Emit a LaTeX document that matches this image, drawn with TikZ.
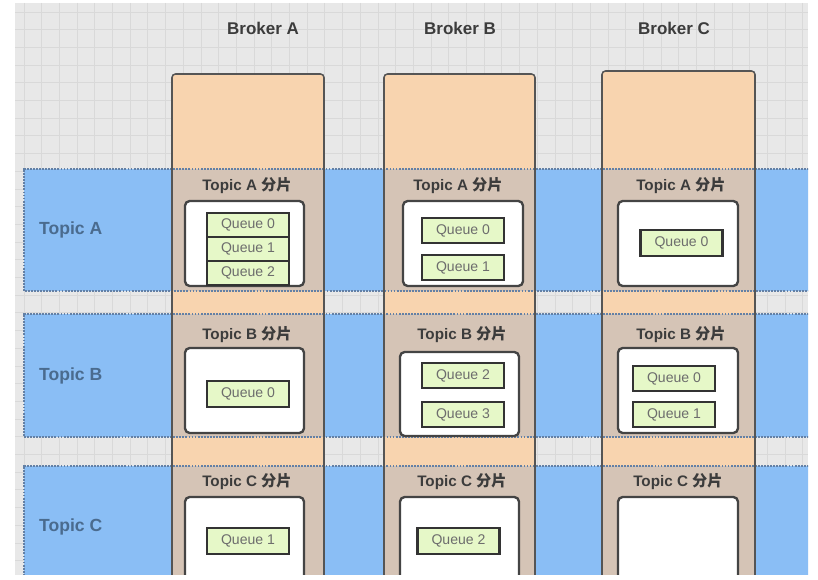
\documentclass[tikz,border=0pt]{standalone}
\usepackage{fontspec}
\setmainfont{Liberation Sans}
\newfontfamily\cjk{Noto Sans CJK SC}
\usepackage{tikz}
\usetikzlibrary{fit,positioning}
\definecolor{gridbg}{HTML}{E8E8E8}
\definecolor{gridln}{HTML}{D9D9D9}
\definecolor{brkfill}{HTML}{F8D4AF}
\definecolor{bandfill}{HTML}{8ABEF5}
\definecolor{shardfill}{HTML}{D5C4B6}
\definecolor{qfill}{HTML}{E6F8C8}
\definecolor{edgeclr}{HTML}{555555}
\definecolor{txtclr}{HTML}{3C3C3C}
\definecolor{bandtxt}{HTML}{4A6B8E}
\definecolor{banddot}{HTML}{6380A5}
\tikzset{
 topic band/.style={fill=bandfill,inner sep=0pt,outer sep=0pt},
 band edge/.style={banddot,line width=1.6pt,densely dotted},
 brk box/.style={fill=brkfill,inner sep=0pt,outer sep=0pt,rounded corners=3pt},
 brk edge/.style={draw=edgeclr,line width=1.3pt,inner sep=0pt,rounded corners=3pt},
 shard/.style={fill=shardfill,inner sep=0pt,outer sep=0pt},
 slot/.style={draw=edgeclr!80!black,fill=white,line width=2pt,rounded corners=4pt,
              inner sep=0pt,outer sep=0pt},
 queue/.style={draw=edgeclr!60!black,fill=qfill,line width=1.8pt,
               minimum width=82*0.3mm,minimum height=24*0.3mm,inner sep=0pt,
               font=\fontsize{12}{14}\selectfont,text=txtclr!75},
 brk label/.style={font=\fontsize{14.5}{16}\selectfont\bfseries,text=txtclr},
 band label/.style={font=\fontsize{15}{17}\selectfont\bfseries,text=bandtxt,anchor=west},
 shard title/.style={font=\fontsize{13}{15}\selectfont\bfseries,text=txtclr}
}
\begin{document}
\begin{tikzpicture}[x=0.3mm,y=-0.3mm]
 \useasboundingbox (0,0) rectangle (818,580);
 \fill[white] (0,0) rectangle (818,580);
 \begin{scope}
 \clip (15,3) rectangle (808,575);
 \fill[gridbg] (15,3) rectangle (808,575);
 \foreach \gx in {24,41.7,...,808} \draw[gridln,line width=.7pt] (\gx,3)--(\gx,575);
 \foreach \gy in {12,29.7,...,575} \draw[gridln,line width=.7pt] (15,\gy)--(808,\gy);

 % topic bands
 \node[topic band,fit={(24,169) (830,291)}] (bandA) {};
 \node[topic band,fit={(24,314) (830,437)}] (bandB) {};
 \node[topic band,fit={(24,466) (830,620)}] (bandC) {};

 % brokers
 \node[brk box,fit={(172,74) (324,620)}] (brkA) {};
 \node[brk box,fit={(384,74) (535,620)}] (brkB) {};
 \node[brk box,fit={(602,71) (755,620)}] (brkC) {};

 % shards = broker x topic
 \foreach \b/\l/\r in {A/172/324,B/384/535,C/602/755}
  \foreach \t/\top/\bot in {A/169/291,B/314/437,C/466/620}
   \node[shard,fit={(\l,\top) (\r,\bot)}] (sh\b\t) {};

 \foreach \t in {A,B,C}
  \draw[band edge] (band\t.north east)--(band\t.north west)--(band\t.south west)--(band\t.south east);

 \node[brk edge,fit=(brkA)] (brkAedge) {};
 \node[brk edge,fit=(brkB)] (brkBedge) {};
 \node[brk edge,fit=(brkC)] (brkCedge) {};

 % slots
 \node[slot,fit={(185,201) (304,286)}] (slAA) {};
 \node[slot,fit={(185,348) (304,433)}] (slAB) {};
 \node[slot,fit={(185,497) (304,640)}] (slAC) {};
 \node[slot,fit={(403,201) (523,286)}] (slBA) {};
 \node[slot,fit={(400,352) (519,436)}] (slBB) {};
 \node[slot,fit={(400,497) (519,640)}] (slBC) {};
 \node[slot,fit={(618,201) (738,286)}] (slCA) {};
 \node[slot,fit={(618,348) (738,433)}] (slCB) {};
 \node[slot,fit={(618,497) (738,640)}] (slCC) {};
 \end{scope}

 % queues
 \node[queue] (qAA0) at (248,225) {Queue 0};
 \node[queue] (qAA1) at (248,249) {Queue 1};
 \node[queue] (qAA2) at (248,273) {Queue 2};
 \node[queue,minimum height=26*0.3mm] (qAB0) at (248,394) {Queue 0};
 \node[queue,minimum height=26*0.3mm] (qAC1) at (248,541) {Queue 1};
 \node[queue,minimum height=25*0.3mm] (qBA0) at (463,230.5) {Queue 0};
 \node[queue,minimum height=25*0.3mm] (qBA1) at (463,267.5) {Queue 1};
 \node[queue,minimum height=25*0.3mm] (qBB2) at (463,375.5) {Queue 2};
 \node[queue,minimum height=25*0.3mm] (qBB3) at (463,414.5) {Queue 3};
 \node[queue,minimum height=26*0.3mm] (qBC2) at (458.5,541) {Queue 2};
 \node[queue,minimum height=26*0.3mm] (qCA0) at (681.5,243) {Queue 0};
 \node[queue,minimum height=25*0.3mm] (qCB0) at (674,378.5) {Queue 0};
 \node[queue,minimum height=25*0.3mm] (qCB1) at (674,414.5) {Queue 1};

 % labels
 \node[brk label] (lblBrkA) at (263,28) {Broker A};
 \node[brk label] (lblBrkB) at (460,28) {Broker B};
 \node[brk label] (lblBrkC) at (674,28) {Broker C};
 \node[band label] (lblA) at (35,230) {Topic A};
 \node[band label] (lblB) at (35,376) {Topic B};
 \node[band label] (lblC) at (35,527) {Topic C};
 \node[shard title] (tAA) at (247,186) {Topic A {\cjk 分片}};
 \node[shard title] (tAB) at (247,335) {Topic B {\cjk 分片}};
 \node[shard title] (tAC) at (247,482) {Topic C {\cjk 分片}};
 \node[shard title] (tBA) at (458,186) {Topic A {\cjk 分片}};
 \node[shard title] (tBB) at (462,335) {Topic B {\cjk 分片}};
 \node[shard title] (tBC) at (462,482) {Topic C {\cjk 分片}};
 \node[shard title] (tCA) at (681,186) {Topic A {\cjk 分片}};
 \node[shard title] (tCB) at (681,335) {Topic B {\cjk 分片}};
 \node[shard title] (tCC) at (678,482) {Topic C {\cjk 分片}};
\end{tikzpicture}
\end{document}
